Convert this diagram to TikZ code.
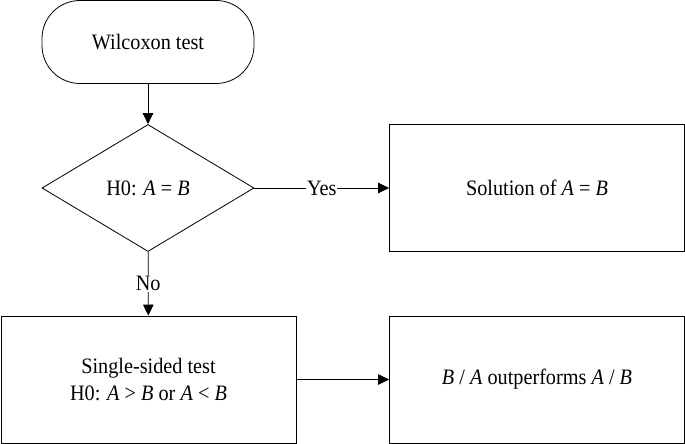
\documentclass[tikz,border=0pt]{standalone}
\usepackage{fontspec}
\setmainfont{Liberation Serif}[FakeStretch=0.92]
\usepackage{tikz}
\usetikzlibrary{shapes.geometric,arrows.meta}

\tikzset{
    box/.style={draw, thick, minimum width=295pt, minimum height=127pt, align=center, inner sep=0pt},
    startbox/.style={draw, thick, rounded corners=38pt, minimum width=212pt, minimum height=83pt},
    testbox/.style={draw, thick, diamond, aspect=1.67, minimum width=212pt, minimum height=127pt, inner sep=0pt},
    flow/.style={thick, -{Triangle[length=11pt,width=10.5pt]}},
    branch/.style={fill=white, inner sep=1pt}
}

\begin{document}
\begin{tikzpicture}[x=1pt, y=-1pt, line width=0.8pt, font=\fontsize{22}{27}\selectfont]
    \useasboundingbox (0, 0) rectangle (685, 444);
    \node[startbox] (start) at (148, 42) {Wilcoxon test};
    \node[testbox] (test) at (148, 188) {H0: \textit{A} = \textit{B}};
    \node[box] (same) at (537, 188) {Solution of \textit{A} = \textit{B}};
    \node[box] (single) at (148.5, 379.5) {Single-sided test\\H0: \textit{A} > \textit{B} or \textit{A} < \textit{B}};
    \node[box] (better) at (537, 379.5) {\textit{B} / \textit{A} outperforms \textit{A} / \textit{B}};

    \draw[flow] (start) -- (test);
    \draw[flow] (test) -- node[branch, pos=0.5] {Yes} (same);
    \draw[flow] (test) -- node[branch, pos=0.5] {No} (single);
    \draw[flow] (single) -- (better);
\end{tikzpicture}
\end{document}
